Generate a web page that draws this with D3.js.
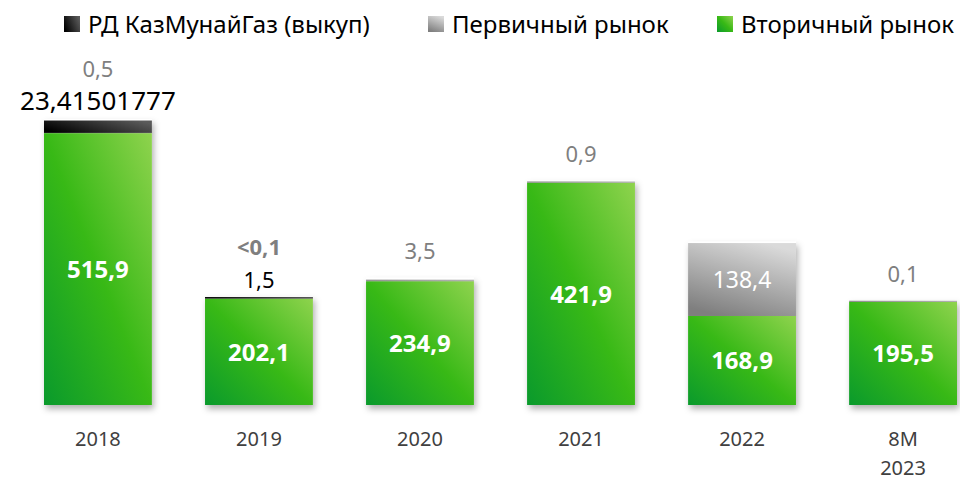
<!DOCTYPE html>
<html>
<head>
<meta charset="utf-8">
<script src="https://cdn.jsdelivr.net/npm/d3@7"></script>
<style>
  body { margin: 0; background: #fff; }
  svg { font-family: "Noto Sans", Lato, sans-serif; }
</style>
</head>
<body>
<svg id="chart" width="960" height="480"></svg>
<script>
var categories = ["2018", "2019", "2020", "2021", "2022", "8M 2023"]
var secondary = [515.9, 202.1, 234.9, 421.9, 168.9, 195.5]
var primary = [0.5, 0.05, 3.5, 0.9, 138.4, 0.1]
var buyback = [23.41501777, 1.5, 0, 0, 0, 0]
// labels as in the source slide
var primaryLabels = ["0,5", "<0,1", "3,5", "0,9", "138,4", "0,1"]
var buybackLabels = ["23,41501777", "1,5", "", "", "", ""]
var fmt = function(v) { return v.toFixed(1).replace(".", ",") }

var svg = d3.select("#chart")
var defs = svg.append("defs")

function grad(id, stops, x1, y1, x2, y2) {
    var g = defs.append("linearGradient").attr("id", id)
        .attr("x1", x1).attr("y1", y1).attr("x2", x2).attr("y2", y2)
    stops.forEach(function(s) {
        g.append("stop").attr("offset", s[0]).attr("stop-color", s[1])
    })
}
grad("g-green", [[0, "#0a9a2c"], [0.5, "#38b916"], [1, "#8fd34e"]], "0", "1", "1", "0")
grad("g-grey", [[0, "#7f7f7f"], [1, "#dadada"]], "0.3", "1", "0.7", "0")
grad("g-black", [[0, "#000"], [1, "#5a5a5a"]], "0", "0.7", "1", "0.3")

var f = defs.append("filter").attr("id", "shadow").attr("x", "-10%").attr("y", "-10%").attr("width", "130%").attr("height", "130%")
f.append("feDropShadow").attr("dx", 2).attr("dy", 4).attr("stdDeviation", 3).attr("flood-color", "#000").attr("flood-opacity", 0.3)

var x = d3.scaleBand().domain(categories).range([44, 957]).paddingInner(0.33).paddingOuter(0)
var y = d3.scaleLinear().domain([0, 600]).range([405, 88.8])

var rows = categories.map(function(c, i) {
    return { cat: c, secondary: secondary[i], primary: primary[i], buyback: buyback[i] }
})
var series = d3.stack().keys(["secondary", "primary", "buyback"])(rows)
var fills = { secondary: "url(#g-green)", primary: "url(#g-grey)", buyback: "url(#g-black)" }

// shadow behind each full bar
svg.append("g").selectAll("rect").data(rows).enter().append("rect")
    .attr("x", function(d) { return x(d.cat) })
    .attr("width", x.bandwidth())
    .attr("y", function(d) { return y(d.secondary + d.primary + d.buyback) - 1.5 })
    .attr("height", function(d) { return y(0) - y(d.secondary + d.primary + d.buyback) + 1.5 })
    .attr("fill", "#fff")
    .attr("filter", "url(#shadow)")

svg.append("g").selectAll("g").data(series).enter().append("g")
    .attr("fill", function(s) { return fills[s.key] })
    .selectAll("rect").data(function(s) { return s.filter(function(d) { return d[1] - d[0] > 0 }) })
    .enter().append("rect")
    .attr("x", function(d) { return x(d.data.cat) })
    .attr("width", x.bandwidth())
    .attr("y", function(d) { return Math.min(y(d[1]), y(d[0]) - 1.5) })
    .attr("height", function(d) { return Math.max(y(d[0]) - y(d[1]), 1.5) })

// secondary labels in bar
svg.append("g").selectAll("text").data(rows).enter().append("text")
    .attr("x", function(d) { return x(d.cat) + x.bandwidth() / 2 })
    .attr("y", function(d) { return (y(0) + y(d.secondary)) / 2 + 9 })
    .attr("text-anchor", "middle")
    .attr("fill", "#fff").attr("font-weight", "bold").attr("font-size", 24)
    .text(function(d) { return fmt(d.secondary) })

// primary / buyback labels
rows.forEach(function(d, i) {
    var cx = x(d.cat) + x.bandwidth() / 2
    var top = y(d.secondary + d.primary + d.buyback)
    if (d.primary > 50) {
        svg.append("text").attr("x", cx).attr("y", (y(d.secondary) + y(d.secondary + d.primary)) / 2 + 8)
            .attr("text-anchor", "middle").attr("fill", "#fff").attr("font-size", 23)
            .text(primaryLabels[i])
        return
    }
    var py = top - 20
    if (buybackLabels[i]) {
        var big = d.buyback > 10
        svg.append("text").attr("x", cx).attr("y", top - (big ? 11 : 10))
            .attr("text-anchor", "middle").attr("fill", "#000")
            .attr("font-size", big ? 26 : 22)
            .text(buybackLabels[i])
        py = top - (big ? 44 : 43)
    }
    svg.append("text").attr("x", cx).attr("y", py)
        .attr("text-anchor", "middle").attr("fill", "#7f7f7f")
        .attr("font-size", 22).attr("font-weight", d.primary < 0.1 ? "bold" : "normal")
        .text(primaryLabels[i])
})

// x axis labels
var xt = svg.append("g").selectAll("text").data(categories).enter().append("text")
    .attr("x", function(d) { return x(d) + x.bandwidth() / 2 })
    .attr("y", 446)
    .attr("text-anchor", "middle").attr("fill", "#404040").attr("font-size", 20)
xt.each(function(d) {
    var parts = d.split(" ")
    var t = d3.select(this)
    parts.forEach(function(p, j) {
        t.append("tspan").attr("x", x(d) + x.bandwidth() / 2).attr("dy", j ? 29 : 0).text(p)
    })
})

// legend
var legend = [["РД КазМунайГаз (выкуп)", "url(#g-black)", 64], ["Первичный рынок", "url(#g-grey)", 428], ["Вторичный рынок", "url(#g-green)", 717]]
var lg = svg.append("g").selectAll("g").data(legend).enter().append("g")
    .attr("transform", function(d) { return "translate(" + d[2] + ",0)" })
lg.append("rect").attr("x", 0).attr("y", 16).attr("width", 16).attr("height", 16)
    .attr("fill", function(d) { return d[1] })
lg.append("text").attr("x", 24).attr("y", 33).attr("font-size", 24).attr("fill", "#000")
    .text(function(d) { return d[0] })
</script>
</body>
</html>
